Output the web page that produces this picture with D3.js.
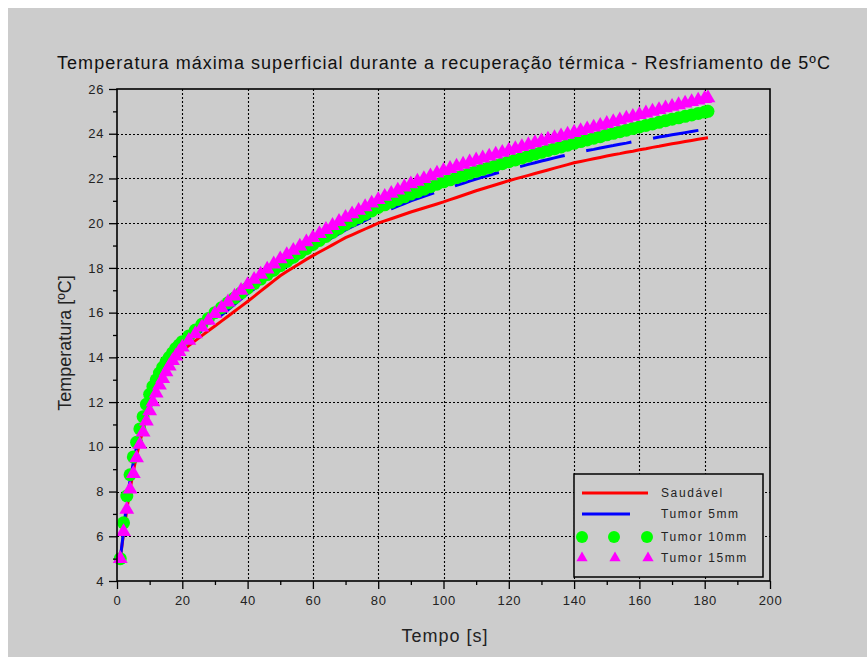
<!DOCTYPE html>
<html><head><meta charset="utf-8">
<script src="https://cdn.jsdelivr.net/npm/d3@7"></script>
<style>body{margin:0;background:#fff;} svg{display:block;}</style>
</head><body><svg id="c" width="867" height="657"></svg>
<script>
const time=[1,2,3,4,5,6,7,8,9,10,11,12,13,14,15,16,17,18,19,20,
22,24,26,28,30,32,34,36,38,40,42,44,46,48,50,52,54,56,58,60,
62,64,66,68,70,72,74,76,78,80,82,84,86,88,90,92,94,96,98,100,
102,104,106,108,110,112,114,116,118,120,122,124,126,128,130,132,134,136,138,140,
142,144,146,148,150,152,154,156,158,160,162,164,166,168,170,172,174,176,178,180,181];

const saudavel=[5.0,6.1,7.2,8.1,8.9,9.6,10.2,10.8,11.3,11.75,12.15,12.5,12.8,13.1,13.35,13.6,13.8,14.0,14.15,14.3,
14.53,14.75,14.97,15.19,15.4,15.62,15.84,16.06,16.28,16.5,16.73,16.96,17.19,17.42,17.65,17.84,18.02,18.2,18.38,18.55,
18.71,18.87,19.03,19.19,19.35,19.48,19.61,19.74,19.87,20.0,20.1,20.2,20.3,20.4,20.5,20.59,20.68,20.77,20.86,20.95,
21.05,21.15,21.25,21.35,21.45,21.54,21.63,21.72,21.81,21.9,21.98,22.06,22.14,22.22,22.3,22.38,22.46,22.54,22.62,22.7,
22.76,22.82,22.88,22.94,23.0,23.06,23.11,23.17,23.22,23.28,23.33,23.39,23.44,23.5,23.55,23.6,23.65,23.7,23.75,23.8,23.82];

const tumor5=[5.0,6.2,7.6,8.5,9.3,10.0,10.6,11.15,11.65,12.1,12.45,12.8,13.1,13.35,13.6,13.8,14.0,14.2,14.35,14.5,
14.73,14.96,15.19,15.42,15.65,15.89,16.13,16.37,16.61,16.85,17.06,17.27,17.48,17.69,17.9,18.09,18.28,18.47,18.66,18.85,
19.02,19.19,19.36,19.53,19.7,19.84,19.98,20.12,20.26,20.4,20.52,20.64,20.76,20.88,21.0,21.1,21.2,21.3,21.4,21.5,
21.59,21.69,21.78,21.88,21.97,22.06,22.14,22.23,22.31,22.4,22.48,22.55,22.63,22.7,22.78,22.85,22.92,22.99,23.06,23.13,
23.19,23.25,23.3,23.36,23.42,23.47,23.53,23.58,23.64,23.69,23.74,23.79,23.85,23.9,23.95,24.0,24.05,24.1,24.15,24.2,24.23];

const tumor10=[5.0,6.6,7.8,8.75,9.55,10.2,10.8,11.35,11.9,12.35,12.7,13.0,13.3,13.55,13.8,14.0,14.2,14.4,14.55,14.7,
14.96,15.22,15.48,15.74,16.0,16.22,16.44,16.66,16.88,17.1,17.3,17.5,17.7,17.9,18.1,18.29,18.48,18.67,18.86,19.05,
19.23,19.41,19.59,19.77,19.95,20.1,20.25,20.4,20.55,20.7,20.82,20.94,21.06,21.18,21.3,21.41,21.52,21.63,21.74,21.85,
21.94,22.04,22.13,22.23,22.32,22.41,22.49,22.58,22.66,22.75,22.83,22.92,23.0,23.09,23.17,23.25,23.33,23.41,23.49,23.57,
23.65,23.72,23.8,23.87,23.95,24.02,24.09,24.16,24.23,24.3,24.37,24.44,24.51,24.58,24.65,24.71,24.78,24.84,24.91,24.97,25.0];

const tumor15=[5.0,6.2,7.2,8.1,8.8,9.5,10.1,10.65,11.15,11.6,12.0,12.4,12.75,13.05,13.35,13.6,13.85,14.05,14.25,14.45,
14.75,15.05,15.35,15.65,15.95,16.21,16.47,16.73,16.99,17.25,17.48,17.71,17.94,18.17,18.4,18.59,18.78,18.97,19.16,19.35,
19.53,19.71,19.89,20.07,20.25,20.41,20.57,20.73,20.89,21.05,21.19,21.33,21.47,21.61,21.75,21.87,21.99,22.11,22.23,22.35,
22.44,22.54,22.63,22.73,22.82,22.91,22.99,23.08,23.16,23.25,23.33,23.42,23.5,23.59,23.67,23.75,23.82,23.9,23.97,24.05,
24.13,24.21,24.29,24.37,24.45,24.53,24.61,24.69,24.77,24.85,24.92,25.0,25.07,25.15,25.22,25.29,25.36,25.43,25.5,25.57,25.6];

const seriesNames=["Saudável","Tumor 5mm","Tumor 10mm","Tumor 15mm"];
const xTicks=[0,20,40,60,80,100,120,140,160,180,200];
const xMinor=[10,30,50,70,90,110,130,150,170,190];
const yTicks=[4,6,8,10,12,14,16,18,20,22,24,26];
const yMinor=[5,7,9,11,13,15,17,19,21,23,25];
const titleText="Temperatura máxima superficial durante a recuperação térmica - Resfriamento de 5ºC";
const xLabel="Tempo [s]";
const yLabel="Temperatura [ºC]";

const FONT="'Liberation Sans', Arial, sans-serif";
const svg=d3.select("#c");
svg.append("rect").attr("x",0).attr("y",0).attr("width",867).attr("height",657).attr("fill","#fff");
svg.append("rect").attr("x",8).attr("y",8).attr("width",859).attr("height",649).attr("fill","#cccccc");

const x=d3.scaleLinear().domain([0,200]).range([117,770]);
const y=d3.scaleLinear().domain([4,26]).range([581,89]);

// grid
const grid=svg.append("g").attr("stroke","#000").attr("stroke-width",1.1).attr("stroke-dasharray","2,2");
grid.selectAll("line.v").data(xTicks.slice(1,-1)).join("line")
  .attr("x1",d=>Math.round(x(d))+0.5).attr("x2",d=>Math.round(x(d))+0.5).attr("y1",y(26)).attr("y2",y(4));
grid.selectAll("line.h").data(yTicks.slice(1,-1)).join("line")
  .attr("y1",d=>Math.round(y(d))+0.5).attr("y2",d=>Math.round(y(d))+0.5).attr("x1",x(0)).attr("x2",x(200));

const pts=(vals)=>time.map((t,i)=>[t,vals[i]]);
const line=d3.line().x(d=>x(d[0])).y(d=>y(d[1]));

svg.append("path").datum(pts(saudavel)).attr("d",line).attr("fill","none")
  .attr("stroke","#ff0000").attr("stroke-width",3);
svg.append("path").datum(pts(tumor5)).attr("d",line).attr("fill","none")
  .attr("stroke","#0000ff").attr("stroke-width",3).attr("stroke-dasharray","46,22");
svg.append("g").selectAll("circle").data(pts(tumor10)).join("circle")
  .attr("cx",d=>x(d[0])).attr("cy",d=>y(d[1])).attr("r",6.5).attr("fill","#00ff00");
const tri=d3.symbol(d3.symbolTriangle,95);
svg.append("g").selectAll("path").data(pts(tumor15)).join("path")
  .attr("d",tri).attr("transform",d=>`translate(${x(d[0])},${y(d[1])})`).attr("fill","#ff00ff");

// axes
const styleAxis=g=>{g.selectAll("text").attr("font-family",FONT).attr("font-size",13).attr("fill","#222").attr("letter-spacing","0.6px");
  g.selectAll("line").attr("stroke","#000").attr("stroke-width",1.3); g.select(".domain").remove();};
svg.append("g").attr("transform","translate(117,0)")
  .call(d3.axisLeft(y).tickValues(yTicks).tickSize(8).tickSizeOuter(0).tickPadding(5)).call(styleAxis);
svg.append("g").attr("transform","translate(117,0)")
  .call(d3.axisLeft(y).tickValues(yMinor).tickSize(4).tickFormat("")).call(styleAxis);
svg.append("g").attr("transform","translate(0,581)")
  .call(d3.axisBottom(x).tickValues(xTicks).tickSize(8).tickSizeOuter(0).tickPadding(7)).call(styleAxis);
svg.append("g").attr("transform","translate(0,581)")
  .call(d3.axisBottom(x).tickValues(xMinor).tickSize(4).tickFormat("")).call(styleAxis);

svg.append("rect").attr("x",x(0)).attr("y",y(26)).attr("width",x(200)-x(0)).attr("height",y(4)-y(26))
  .attr("fill","none").attr("stroke","#000").attr("stroke-width",1.6);

// titles
svg.append("text").attr("x",444).attr("y",69).attr("text-anchor","middle").attr("font-family",FONT)
  .attr("font-size",18).attr("letter-spacing","1.05px").attr("fill","#111").text(titleText);
svg.append("text").attr("x",445).attr("y",642).attr("text-anchor","middle").attr("font-family",FONT)
  .attr("font-size",18).attr("letter-spacing","1px").attr("fill","#222").text(xLabel);
svg.append("text").attr("transform","translate(71,343) rotate(-90)").attr("text-anchor","middle").attr("font-family",FONT)
  .attr("font-size",18).attr("fill","#222").text(yLabel);

// legend
const lg=svg.append("g");
lg.append("rect").attr("x",574).attr("y",474).attr("width",189).attr("height",103)
  .attr("fill","#cccccc").attr("stroke","#000").attr("stroke-width",1.5);
const rowsY=[493,514,537,558];
const triL=d3.symbol(d3.symbolTriangle,55);
lg.append("line").attr("x1",582).attr("x2",648).attr("y1",rowsY[0]).attr("y2",rowsY[0]).attr("stroke","#ff0000").attr("stroke-width",3);
lg.append("line").attr("x1",582).attr("x2",630).attr("y1",rowsY[1]).attr("y2",rowsY[1]).attr("stroke","#0000ff").attr("stroke-width",3);
[582,614,647].forEach(px=>lg.append("circle").attr("cx",px).attr("cy",rowsY[2]).attr("r",6).attr("fill","#00ff00"));
[582,615,648].forEach(px=>lg.append("path").attr("d",triL).attr("transform",`translate(${px},${rowsY[3]})`).attr("fill","#ff00ff"));
lg.selectAll("text").data(seriesNames).join("text").attr("x",661).attr("y",(d,i)=>rowsY[i]+4)
  .attr("font-family",FONT).attr("font-size",12).attr("letter-spacing","1.6px").attr("fill","#222").text(d=>d);
</script></body></html>
